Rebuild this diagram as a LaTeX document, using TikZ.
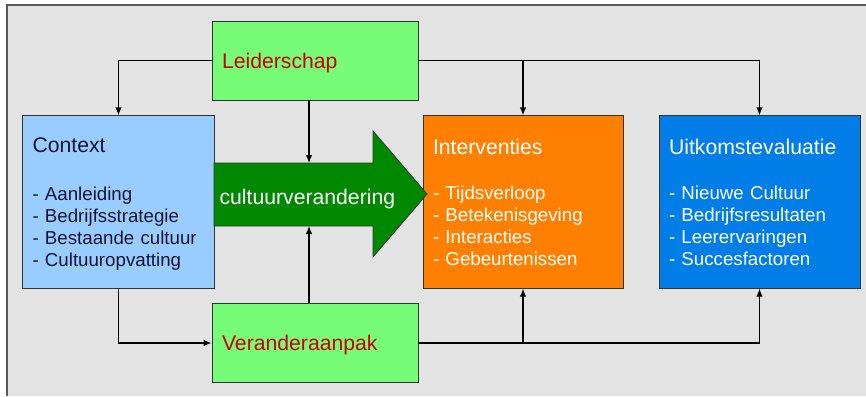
\documentclass[tikz,border=0pt]{standalone}
\usepackage{fontspec}
\setmainfont{Liberation Sans}
\usetikzlibrary{positioning, arrows.meta}

\definecolor{bggray}{RGB}{227,227,227}
\definecolor{leidgreen}{RGB}{119,252,119}
\definecolor{textred}{RGB}{204,0,0}
\definecolor{ctxblue}{RGB}{153,204,255}
\definecolor{intorange}{RGB}{255,128,0}
\definecolor{uitblue}{RGB}{0,125,230}
\definecolor{arrowgreen}{RGB}{0,136,0}
\definecolor{ctxtext}{RGB}{20,20,50}

\newcommand{\boxtitle}[2][23.4pt]{{\fontsize{21.2}{21.9}\selectfont #2}\\[#1]}

\begin{document}
\begin{tikzpicture}[x=1pt,y=-1pt,
    box/.style={draw=black!80,line width=0.8pt,inner xsep=10pt,inner ysep=0pt,
      align=left,font=\fontsize{18.7}{21.9}\selectfont},
    infobox/.style={box,minimum width=#1,text width=#1-20pt,minimum height=172.5pt},
    greenbox/.style={box,fill=leidgreen,text=textred,minimum width=206pt,text depth=0pt,
      text width=186pt,minimum height=79pt,font=\fontsize{21.2}{24}\selectfont},
    link/.style={-{Latex[length=8pt,width=6.5pt]},line width=1.3pt,black}]
    \useasboundingbox (0,0) rectangle (866,396);
    % Draw background panel
    \fill [bggray] (7,5) rectangle (866,396);
    \draw [black!65,line width=1.3pt] (7,396) -- (7,5) -- (866,5);

    % Draw the boxes
    \node [greenbox] (leid) at (315,60.5) {Leiderschap};
    \node [greenbox] (veran) at (315,343) {Veranderaanpak};
    \node [infobox=192pt,fill=ctxblue,text=ctxtext] (context) at (118.5,202) {%
      \boxtitle[26.5pt]{Context}
      - Aanleiding\\ - Bedrijfsstrategie\\ - Bestaande cultuur\\ \smash{- Cultuuropvatting}};
    \node [infobox=200pt,fill=intorange,text=white] (interv) at (523,202) {%
      \boxtitle{Interventies}
      - Tijdsverloop\\ - Betekenisgeving\\ - Interacties\\ - Gebeurtenissen};
    \node [infobox=201pt,fill=uitblue,text=white] (uitk) at (759.5,202) {%
      \boxtitle{Uitkomstevaluatie}
      - Nieuwe Cultuur\\ - Bedrijfsresultaten\\ - Leerervaringen\\ - Succesfactoren};

    % Draw the big arrow
    \filldraw [fill=arrowgreen,draw=black!80,line width=0.8pt]
      (214,163) -- (373,163) -- (373,131) -- (427,194)
      -- (373,257) -- (373,226) -- (214,226) -- cycle;
    \node [text=white,anchor=west,text depth=0pt,font=\fontsize{21.2}{24}\selectfont]
      (cultuur) at (216,197) {cultuurverandering};
    \coordinate (bodytop) at (309,163);
    \coordinate (bodybot) at (309,226);

    % Draw connectors
    \draw [link] (leid.west) -| (context.north);
    \draw [link] (leid.east) -| (interv.north);
    \draw [link] (leid.east) -| (uitk.north);
    \draw [link] (leid.south -| bodytop) -- (bodytop);
    \draw [link] (veran.north -| bodybot) -- (bodybot);
    \draw [link] (context.south) |- (veran.west);
    \draw [link] (veran.east) -| (interv.south);
    \draw [link] (veran.east) -| (uitk.south);
  \end{tikzpicture}
\end{document}
